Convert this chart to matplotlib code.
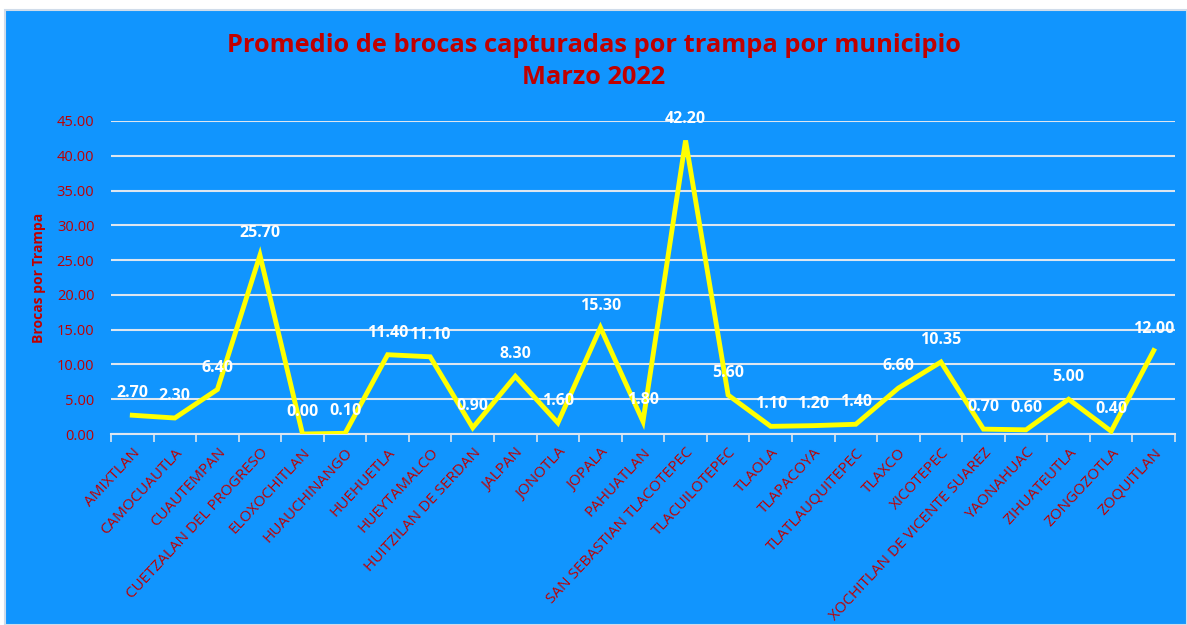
import matplotlib.pyplot as plt
from matplotlib.patches import Rectangle

municipios = ["AMIXTLAN", "CAMOCUAUTLA", "CUAUTEMPAN", "CUETZALAN DEL PROGRESO",
              "ELOXOCHITLAN", "HUAUCHINANGO", "HUEHUETLA", "HUEYTAMALCO",
              "HUITZILAN DE SERDAN", "JALPAN", "JONOTLA", "JOPALA", "PAHUATLAN",
              "SAN SEBASTIAN TLACOTEPEC", "TLACUILOTEPEC", "TLAOLA", "TLAPACOYA",
              "TLATLAUQUITEPEC", "TLAXCO", "XICOTEPEC", "XOCHITLAN DE VICENTE SUAREZ",
              "YAONAHUAC", "ZIHUATEUTLA", "ZONGOZOTLA", "ZOQUITLAN"]
promedio = [2.70, 2.30, 6.40, 25.70, 0.00, 0.10, 11.40, 11.10, 0.90, 8.30, 1.60,
            15.30, 1.80, 42.20, 5.60, 1.10, 1.20, 1.40, 6.60, 10.35, 0.70, 0.60,
            5.00, 0.40, 12.00]
y_ticks = [0, 5, 10, 15, 20, 25, 30, 35, 40, 45]

blue = "#1195FE"
red = "#C00000"
font = "Open Sans"

fig = plt.figure(figsize=(11.87, 6.25), dpi=100)
fig.patch.set_facecolor("white")
fig.patches.append(Rectangle((5 / 1187, 0), 1 - 5 / 1187, 1 - 10 / 625,
                             transform=fig.transFigure, facecolor=blue,
                             edgecolor="#d0dcea", linewidth=1.5, zorder=-1))

ax = fig.add_axes([111 / 1187, 1 - 434 / 625, (1175 - 111) / 1187, (434 - 121) / 625])
ax.set_facecolor(blue)
x = list(range(len(municipios)))
ax.plot(x, promedio, color="#FFFF00", linewidth=3.5, solid_joinstyle="miter", zorder=3)

# etiquetas de datos encima de cada punto
for xi, v in zip(x, promedio):
    ax.annotate(f"{v:.2f}", (xi, v), xytext=(0, 10), textcoords="offset points",
                ha="center", va="bottom", color="white", fontsize=11.5,
                fontweight="bold", family=font, zorder=4)

ax.set_xlim(-0.5, len(municipios) - 0.5)
ax.set_ylim(0, 45)
ax.set_yticks(y_ticks)
ax.set_yticklabels([f"{t:.2f}" for t in y_ticks], color=red, fontsize=10.5, family=font)
ax.grid(axis="y", color="#dde6f0", linewidth=1.5)
ax.set_axisbelow(True)
for s in ["top", "right", "left"]:
    ax.spines[s].set_visible(False)
ax.spines["bottom"].set_color("#dde6f0")
ax.spines["bottom"].set_linewidth(1.5)
ax.tick_params(axis="y", length=0, pad=12)

# marcas entre categorias, nombres en las categorias
ax.set_xticks([i - 0.5 for i in x] + [len(municipios) - 0.5])
ax.set_xticklabels([])
ax.tick_params(axis="x", length=6, color="#dde6f0", width=1.2)
ax.set_xticks(x, minor=True)
ax.set_xticklabels(municipios, minor=True, rotation=47, ha="right",
                   rotation_mode="anchor", color=red, fontsize=11, family=font)
ax.tick_params(axis="x", which="minor", length=0, pad=8)

ax.set_ylabel("Brocas por Trampa", color=red, fontsize=10, fontweight="bold",
              family=font, labelpad=8)

fig.text(0.5, 1 - 45 / 625, "Promedio de brocas capturadas por trampa por municipio",
         ha="center", va="center", color=red, fontsize=18.3, fontweight="bold", family=font)
fig.text(0.5, 1 - 78 / 625, "Marzo 2022", ha="center", va="center", color=red,
         fontsize=18.3, fontweight="bold", family=font)

fig.savefig("out.png", dpi=100)
